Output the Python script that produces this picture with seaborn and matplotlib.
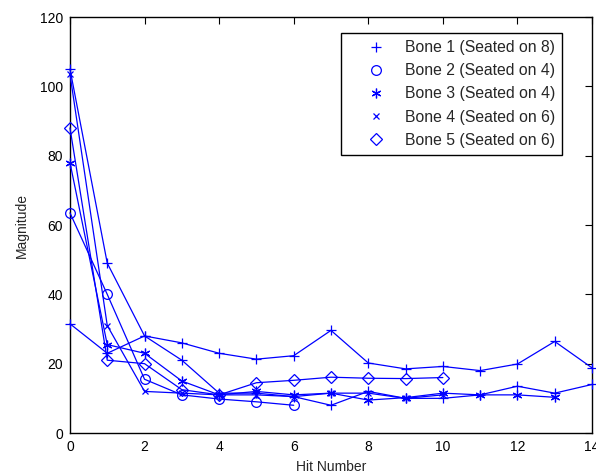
import matplotlib
matplotlib.use("Agg")
import matplotlib.pyplot as plt
from matplotlib.lines import Line2D
import numpy as np
import pandas as pd
import seaborn as sns

# Impact magnitude per hit for each bone
bone1 = [105, 49, 28, 21, 11.5, 11.5, 10.5, 8, 12, 10, 10, 11, 13.5, 11.5, 14]
bone2 = [63.5, 40, 15.5, 11, 9.8, 9, 8]
bone3 = [78, 25.5, 23, 15, 11, 12, 11, 11.5, 9.5, 10.2, 11.5, 11, 11, 10.3]
bone4 = [103.5, 31, 12, 11.5, 11, 11, 10.5, 11.5, 11.5, 10, 11]
bone5 = [88, 21, 20, 12.5, 11, 14.5, 15.2, 16.1, 15.8, 15.7, 16]
bone1_rerun = [31.5, 23, 28, 26, 23, 21.3, 22.3, 29.6, 20.2, 18.5, 19.2, 18, 19.9, 26.4, 18.8]

labels = ["Bone 1 (Seated on 8)", "Bone 2 (Seated on 4)", "Bone 3 (Seated on 4)",
          "Bone 4 (Seated on 6)", "Bone 5 (Seated on 6)"]
xticks = [0, 2, 4, 6, 8, 10, 12, 14]
yticks = [0, 20, 40, 60, 80, 100, 120]

sns.set_theme(style="white")
plt.rcParams["font.family"] = ["Liberation Sans", "DejaVu Sans"]

fig = plt.figure(figsize=(5.96, 4.75), dpi=100)
ax = fig.add_axes([0.1174, 0.0884, 0.8759, 0.8758])

blue = (0, 0, 1)
asterisk = (6, 2, 0)
series = [
    (bone1, "+", dict()),
    (bone2, "o", dict(markerfacecolor="none")),
    (bone3, asterisk, dict()),
    (bone4, "x", dict(markersize=4.5)),
    (bone5, "D", dict(markerfacecolor="none", markersize=6)),
    (bone1_rerun, "+", dict()),
]

for vals, mk, extra in series:
    df = pd.DataFrame({"hit": np.arange(len(vals)), "mag": vals})
    kw = dict(markersize=7, markeredgecolor=blue, markeredgewidth=0.9)
    kw.update(extra)
    sns.lineplot(data=df, x="hit", y="mag", ax=ax, color=blue, lw=0.9,
                 marker=mk, clip_on=False, zorder=3, **kw)

ax.set_xlim(0, 14)
ax.set_ylim(0, 120)
ax.set_xticks(xticks)
ax.set_yticks(yticks)
ax.set_xticklabels([str(t) for t in xticks])
ax.set_yticklabels([str(t) for t in yticks])
ax.tick_params(direction="in", length=5, width=0.8, colors="black",
               labelsize=10, top=True, right=True, pad=5)
for s in ax.spines.values():
    s.set_visible(True)
    s.set_color("black")
    s.set_linewidth(1.0)
    s.set_zorder(2)

ax.set_xlabel("Hit Number", fontsize=10, labelpad=4)
ax.set_ylabel("Magnitude", fontsize=10, labelpad=8)

handles = []
for (vals, mk, extra) in series[:5]:
    kw = dict(markersize=7, markeredgecolor=blue, markeredgewidth=0.9)
    kw.update(extra)
    handles.append(Line2D([], [], linestyle="none", marker=mk, color=blue, **kw))
leg = ax.legend(handles, labels, loc="upper right", bbox_to_anchor=(0.9425, 0.9615),
                fontsize=11.3, frameon=True, fancybox=False, framealpha=1,
                edgecolor="black", handlelength=3.55, handletextpad=0.07,
                labelspacing=0.52, borderpad=0.45, borderaxespad=0)
leg.get_frame().set_linewidth(1.0)
leg.set_zorder(5)

fig.savefig("out.png", dpi=100)
